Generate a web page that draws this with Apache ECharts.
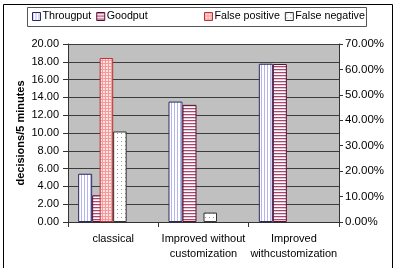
<!DOCTYPE html>
<html>
<head>
<meta charset="utf-8">
<script src="https://cdn.jsdelivr.net/npm/echarts@6/dist/echarts.min.js"></script>
<style>
  html, body { margin: 0; padding: 0; background: #fff; }
  #root { width: 397px; height: 268px; }
</style>
</head>
<body>
<div id="root"></div>
<script>
var categories = ['classical', 'Improved without\ncustomization', 'Improved\nwithcustomization'];
var throughput = [5.42, 13.53, 17.78];
var goodput = [3.0, 13.16, 17.75];
var falsePositive = [0.645, 0, 0];
var falseNegative = [0.356, 0.037, 0];
var leftTicks = { min: 0, max: 20, interval: 2 };
var rightTicks = { min: 0, max: 0.7, interval: 0.1 };

// small tiles used as hatch fills
function tile( w, h, draw ){
	var c = document.createElement('canvas');
	c.width = w; c.height = h;
	var ctx = c.getContext('2d');
	ctx.fillStyle = '#fff';
	ctx.fillRect(0, 0, w, h);
	draw(ctx);
	return { image: c, repeat: 'repeat' };
}

var vStripes = tile(3, 1, function(ctx){
	ctx.fillStyle = '#b4b4ee'; ctx.fillRect(0, 0, 1, 1);
});
var hStripes = tile(1, 3, function(ctx){
	ctx.fillStyle = '#a34a70'; ctx.fillRect(0, 0, 1, 1);
	ctx.fillStyle = '#efc6d6'; ctx.fillRect(0, 1, 1, 1);
});
var pinkGrid = tile(3, 3, function(ctx){
	ctx.fillStyle = '#ffe2e2'; ctx.fillRect(0, 0, 3, 3);
	ctx.fillStyle = '#f59a9a'; ctx.fillRect(0, 0, 3, 1); ctx.fillRect(0, 0, 1, 3);
});
var dots = tile(4, 4, function(ctx){
	ctx.fillStyle = '#9a9a9a'; ctx.fillRect(1, 1, 1, 1);
});

// zero bars are not drawn in the original
function noZero( arr ){
	return arr.map(function(v){ return v === 0 ? '-' : v; });
}

var chart = echarts.init(document.getElementById('root'));
var font = 'Liberation Sans, Arial, sans-serif';

function fixed2( v ){ return v.toFixed(2); }

var legendText = { fontSize: 10.7, color: '#000', fontFamily: font, padding: [0, 0, 0, -3] };

var option = {
	animation: false,
	textStyle: { fontFamily: font },
	graphic: [
		{ type: 'rect', shape: { x: 3.5, y: 4.5, width: 389, height: 280 }, style: { fill: 'none', stroke: '#000', lineWidth: 1 }, silent: true },
		{ type: 'rect', shape: { x: 27.5, y: 7.5, width: 339, height: 19 }, style: { fill: '#fff', stroke: '#555', lineWidth: 1 }, silent: true, z: -1 }
	],
	legend: [
		{
			left: 32, top: 11, padding: 0, itemGap: 5, itemWidth: 8, itemHeight: 8, icon: 'rect',
			itemStyle: { borderWidth: 1 },
			textStyle: legendText,
			data: ['Througput', 'Goodput']
		},
		{
			left: 204, top: 11, padding: 0, itemGap: 5, itemWidth: 8, itemHeight: 8, icon: 'rect',
			itemStyle: { borderWidth: 1 },
			textStyle: legendText,
			data: ['False positive', 'False negative']
		}
	],
	grid: {
		left: 68, right: 58, top: 44, bottom: 46,
		show: true, backgroundColor: '#c0c0c0', borderWidth: 0
	},
	xAxis: [
		{
			type: 'category', data: categories,
			axisLine: { lineStyle: { color: '#333' } },
			axisTick: { show: true, length: 5, lineStyle: { color: '#333' } },
			axisLabel: { color: '#000', fontSize: 11, lineHeight: 15, margin: 9, interval: 0 }
		},
		{ type: 'category', data: categories, show: false }
	],
	yAxis: [
		{
			type: 'value', min: leftTicks.min, max: leftTicks.max, interval: leftTicks.interval,
			name: 'decisions/5 minutes', nameLocation: 'middle', nameGap: 42, nameMoveOverlap: false,
			nameTextStyle: { fontWeight: 'bold', fontSize: 11, color: '#000' },
			axisLine: { show: true, lineStyle: { color: '#333' } },
			axisTick: { show: true, length: 5, lineStyle: { color: '#333' } },
			axisLabel: { color: '#000', fontSize: 11, margin: 9, formatter: fixed2 },
			splitLine: { show: true, lineStyle: { color: '#3c3c3c', width: 1 } }
		},
		{
			type: 'value', min: rightTicks.min, max: rightTicks.max, interval: rightTicks.interval,
			position: 'right',
			axisLine: { show: true, lineStyle: { color: '#333' } },
			axisTick: { show: true, length: 4, lineStyle: { color: '#333' } },
			axisLabel: { color: '#000', fontSize: 11.5, margin: 6, formatter: function(v){ return (v * 100).toFixed(2) + '%'; } },
			splitLine: { show: false }
		}
	],
	series: [
		{ name: 'Througput', type: 'bar', xAxisIndex: 0, yAxisIndex: 0, barWidth: 14, barGap: '0%', data: noZero(throughput),
		  itemStyle: { color: vStripes, borderColor: '#2a2a5e', borderWidth: 1 } },
		{ name: 'Goodput', type: 'bar', xAxisIndex: 0, yAxisIndex: 0, barWidth: 14, barGap: '0%', data: noZero(goodput),
		  itemStyle: { color: hStripes, borderColor: '#5a1030', borderWidth: 1 } },
		// empty slots so the primary pair sits left of centre, as in the original
		{ name: 'pad1', type: 'bar', xAxisIndex: 0, yAxisIndex: 0, barWidth: 14, barGap: '0%', data: [] },
		{ name: 'pad2', type: 'bar', xAxisIndex: 0, yAxisIndex: 0, barWidth: 14, barGap: '0%', data: [] },
		{ name: 'pad3', type: 'bar', xAxisIndex: 0, yAxisIndex: 0, barWidth: 14, barGap: '0%', data: [] },
		{ name: 'False positive', type: 'bar', xAxisIndex: 1, yAxisIndex: 1, barWidth: 13.5, barGap: '0%', data: noZero(falsePositive),
		  itemStyle: { color: pinkGrid, borderColor: '#c0303a', borderWidth: 1 } },
		{ name: 'False negative', type: 'bar', xAxisIndex: 1, yAxisIndex: 1, barWidth: 13.5, barGap: '0%', data: noZero(falseNegative),
		  itemStyle: { color: dots, borderColor: '#333', borderWidth: 1 } }
	]
};

chart.setOption(option);
</script>
</body>
</html>
